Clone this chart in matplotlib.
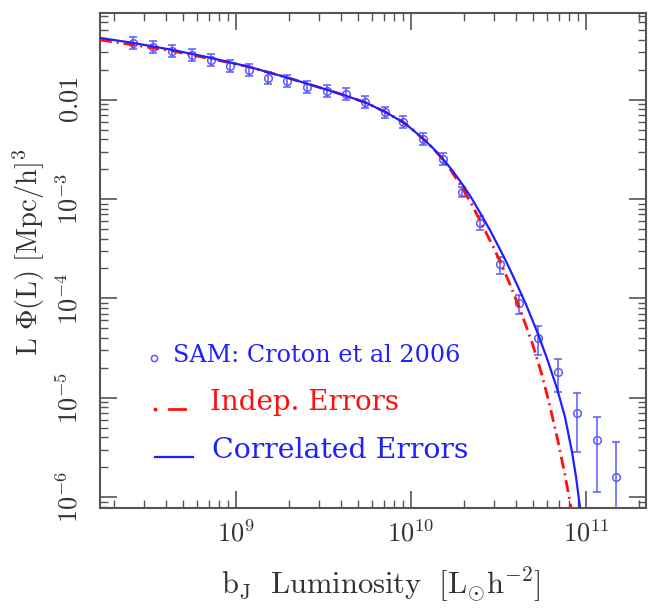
import numpy as np
import matplotlib
matplotlib.use("Agg")
import matplotlib.pyplot as plt
from matplotlib.ticker import FixedLocator, FixedFormatter, LogLocator, NullFormatter

plt.rcParams['mathtext.fontset'] = 'cm'

# SAM luminosity function (Croton et al 2006), log10 values
sam_logL = [8.411, 8.526, 8.634, 8.746, 8.857, 8.966, 9.074, 9.183, 9.294,
            9.406, 9.520, 9.629, 9.740, 9.849, 9.957, 10.069, 10.183, 10.291,
            10.397, 10.506, 10.617, 10.726, 10.840, 10.949, 11.063, 11.171]
sam_logphi = [-1.427, -1.467, -1.508, -1.548, -1.598, -1.658, -1.698, -1.779,
              -1.809, -1.869, -1.910, -1.940, -2.020, -2.121, -2.221, -2.392,
              -2.593, -2.925, -3.236, -3.658, -4.050, -4.402, -4.744, -5.156,
              -5.427, -5.799]
# fractional 1-sigma errors
sam_frac_err = [0.14, 0.14, 0.14, 0.14, 0.14, 0.14, 0.14, 0.14, 0.14, 0.14,
                0.14, 0.14, 0.13, 0.13, 0.13, 0.13, 0.13, 0.12, 0.16, 0.20,
                0.22, 0.32, 0.37, 0.59, 0.70, 1.25]

# fit with correlated errors
corr_logL = [8.223, 8.411, 8.634, 8.857, 9.074, 9.297, 9.520, 9.629, 9.743,
             9.851, 9.960, 10.011, 10.069, 10.126, 10.183, 10.234, 10.291,
             10.343, 10.394, 10.451, 10.509, 10.549, 10.594, 10.657, 10.726,
             10.777, 10.834, 10.880, 10.920, 10.943, 10.966, 10.977]
corr_logphi = [-1.377, -1.427, -1.497, -1.578, -1.668, -1.779, -1.899, -1.960,
               -2.030, -2.121, -2.231, -2.304, -2.392, -2.487, -2.597, -2.706,
               -2.845, -2.981, -3.135, -3.311, -3.507, -3.647, -3.816, -4.059,
               -4.359, -4.603, -4.904, -5.193, -5.545, -5.794, -6.108, -6.258]

# fit with independent errors
indep_logL = [8.223, 8.411, 8.634, 8.857, 9.074, 9.297, 9.520, 9.629, 9.743,
              9.851, 9.960, 10.011, 10.069, 10.126, 10.183, 10.223, 10.263,
              10.309, 10.354, 10.411, 10.469, 10.514, 10.566, 10.634, 10.697,
              10.749, 10.794, 10.840, 10.880, 10.914, 10.926]
indep_logphi = [-1.397, -1.447, -1.508, -1.588, -1.668, -1.779, -1.899, -1.960,
                -2.030, -2.121, -2.231, -2.304, -2.392, -2.487, -2.603, -2.698,
                -2.804, -2.935, -3.075, -3.276, -3.477, -3.648, -3.859, -4.161,
                -4.472, -4.774, -5.085, -5.437, -5.779, -6.101, -6.211]

ytick_vals = [1e-6, 1e-5, 1e-4, 1e-3, 1e-2]
ytick_labels = [r'$10^{-6}$', r'$10^{-5}$', r'$10^{-4}$', r'$10^{-3}$', r'$0.01$']
xtick_vals = [1e9, 1e10, 1e11]
xtick_labels = [r'$10^{9}$', r'$10^{10}$', r'$10^{11}$']

BLUE = '#2020ff'
PT_BLUE = '#5a5aff'
RED = '#ff1010'
GREY = '#555555'

fig = plt.figure(figsize=(6.48, 6.09), dpi=100)
ax = fig.add_axes([0.1543, 0.1658, 0.8426, 0.8129])
ax.set_xscale('log')
ax.set_yscale('log')

L = 10 ** np.array(sam_logL)
phi = 10 ** np.array(sam_logphi)
err = phi * np.array(sam_frac_err)
lower = np.minimum(err, phi * 0.999)
ax.errorbar(L, phi, yerr=[lower, err], fmt='o', ms=5.5, mfc='none', mec=PT_BLUE,
            mew=1.1, ecolor=PT_BLUE, elinewidth=1.1, capsize=3, capthick=1.1, zorder=3)

ax.plot(10 ** np.array(indep_logL), 10 ** np.array(indep_logphi), color=RED, lw=2,
        ls=(0, (4.3, 1.8, 0.7, 1.8)), zorder=4)
ax.plot(10 ** np.array(corr_logL), 10 ** np.array(corr_logphi), color=BLUE, lw=1.6, zorder=5)

ax.set_xlim(10 ** 8.223, 10 ** 11.343)
ax.set_ylim(10 ** -6.111, 10 ** -1.126)

ax.xaxis.set_major_locator(FixedLocator(xtick_vals))
ax.xaxis.set_major_formatter(FixedFormatter(xtick_labels))
ax.yaxis.set_major_locator(FixedLocator(ytick_vals))
ax.yaxis.set_major_formatter(FixedFormatter(ytick_labels))
ax.xaxis.set_minor_locator(LogLocator(base=10, subs=range(2, 10), numticks=20))
ax.yaxis.set_minor_locator(LogLocator(base=10, subs=range(2, 10), numticks=20))
ax.xaxis.set_minor_formatter(NullFormatter())
ax.yaxis.set_minor_formatter(NullFormatter())

ax.tick_params(which='both', direction='in', top=True, right=True, color=GREY,
               labelcolor='#333333', labelsize=19)
ax.tick_params(which='major', length=12, width=1.2)
ax.tick_params(which='minor', length=6, width=1.0)
ax.tick_params(axis='x', pad=9)
ax.tick_params(axis='y', pad=12)
for lab in ax.get_yticklabels():
    lab.set_rotation(90)
    lab.set_va('center')
for sp in ax.spines.values():
    sp.set_color(GREY)
    sp.set_linewidth(1.5)

ax.set_xlabel(r'$\mathrm{b_J\ \ Luminosity\ \ [L_{\odot}h^{-2}]}$', fontsize=22, color='#333333')
ax.set_ylabel(r'$\mathrm{L\ \Phi(L)\ [Mpc/h]^3}$', fontsize=20.5, color='#333333')
ax.xaxis.set_label_coords(0.515, -0.117)
ax.yaxis.set_label_coords(-0.097, 0.517)

# hand-made key
tr = ax.transAxes
ax.plot([0.099], [0.303], 'o', ms=4.5, mfc='none', mec=PT_BLUE, mew=1.1, transform=tr)
ax.text(0.134, 0.295, 'SAM: Croton et al 2006', color=BLUE, fontsize=17.2,
        family='DejaVu Serif', transform=tr, va='baseline')
ax.plot([0.101], [0.200], 'o', ms=1.8, color=RED, transform=tr)
ax.plot([0.126, 0.156], [0.200, 0.200], color=RED, lw=2, transform=tr)
ax.text(0.2015, 0.198, 'Indep. Errors', color=RED, fontsize=20,
        family='DejaVu Serif', transform=tr, va='baseline')
ax.plot([0.101, 0.170], [0.103, 0.103], color=BLUE, lw=1.6, transform=tr)
ax.text(0.205, 0.101, 'Correlated Errors', color=BLUE, fontsize=20.4,
        family='DejaVu Serif', transform=tr, va='baseline')

fig.savefig('out.png', dpi=100)
